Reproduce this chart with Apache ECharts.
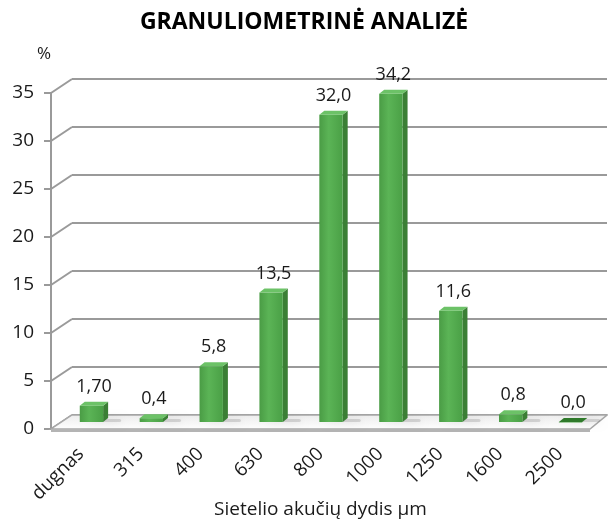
<!DOCTYPE html>
<html>
<head>
<meta charset="utf-8">
<script src="https://cdn.jsdelivr.net/npm/echarts@6/dist/echarts.min.js"></script>
<style>
  html, body { margin: 0; padding: 0; background: #fff; }
  #chart { width: 608px; height: 521px; }
</style>
</head>
<body>
<div id="chart"></div>
<script>
// duomenys
const categories = ['dugnas', '315', '400', '630', '800', '1000', '1250', '1600', '2500']
const values = [1.70, 0.4, 5.8, 13.5, 32.0, 34.2, 11.6, 0.8, 0.0]
const valueLabels = ['1,70', '0,4', '5,8', '13,5', '32,0', '34,2', '11,6', '0,8', '0,0']
const yTicks = [0, 5, 10, 15, 20, 25, 30, 35]
const yMax = 35
const yStep = 5

// 3D depth of the floor / back wall
const DX = 21
const DY = -14
const FONT = 'Open Sans'
const GRID_COLOR = '#9a9a9a'

const chart = echarts.init(document.getElementById('chart'))

function renderConnector (params, api) {
  const y = api.coord([0, api.value(1)])[1]
  const x0 = params.coordSys.x
  return {
    type: 'line',
    shape: { x1: x0, y1: y, x2: x0 + DX, y2: y + DY },
    style: { stroke: GRID_COLOR, lineWidth: 2 }
  }
}

function renderFloor (params) {
  const r = params.coordSys
  const x0 = r.x
  const x1 = r.x + r.width
  const y = r.y + r.height
  return {
    type: 'group',
    children: [{
      type: 'polygon',
      shape: { points: [[x0, y], [x1, y], [x1 + DX - 4, y + DY], [x0 + DX, y + DY]] },
      style: {
        fill: new echarts.graphic.LinearGradient(0, 0, 0, 1, [
          { offset: 0, color: '#ececec' },
          { offset: 1, color: '#ffffff' }
        ]),
        stroke: '#a8a8a8',
        lineWidth: 1.5
      }
    }, {
      type: 'polygon',
      shape: { points: [[x0, y], [x1, y], [x1, y + 3], [x0, y + 3]] },
      style: { fill: '#b4b4b4' }
    }]
  }
}

function renderBar (params, api) {
  const i = api.value(0)
  const v = api.value(1)
  const base = api.coord([i, 0])
  const top = api.coord([i, v])
  const w = api.size([1, 0])[0] * 0.39
  const sx = 5
  const sy = -4
  const x = base[0] - w / 2
  const h = base[1] - top[1]
  return {
    type: 'group',
    children: [{
      type: 'rect',
      shape: { x: x + 8, y: base[1] - 3, width: w + 10, height: 3, r: 2 },
      style: { fill: 'rgba(120,120,120,0.25)', shadowBlur: 8, shadowColor: 'rgba(0,0,0,0.45)' }
    }, {
      type: 'polygon',
      shape: { points: [[x + w, top[1]], [x + w + sx, top[1] + sy], [x + w + sx, base[1] + sy], [x + w, base[1]]] },
      style: { fill: '#3b7f35' }
    }, {
      type: 'rect',
      shape: { x: x, y: top[1], width: w, height: Math.max(h, 0.5) },
      style: {
        fill: new echarts.graphic.LinearGradient(0, 0, 1, 0, [
          { offset: 0, color: '#4a9c45' },
          { offset: 0.4, color: '#5bb456' },
          { offset: 1, color: '#4aa046' }
        ])
      }
    }, {
      type: 'polygon',
      shape: { points: [[x, top[1]], [x + sx, top[1] + sy], [x + w + sx, top[1] + sy], [x + w, top[1]]] },
      style: { fill: v > 0.1 ? '#6cc267' : '#2f7a2b' }
    }, {
      type: 'text',
      style: {
        text: valueLabels[i],
        x: base[0] + sx / 2,
        y: top[1] - 10,
        align: 'center',
        verticalAlign: 'bottom',
        fill: '#1a1a1a',
        font: '18px "' + FONT + '"'
      }
    }]
  }
}

chart.setOption({
  animation: false,
  title: {
    text: 'GRANULIOMETRINĖ ANALIZĖ',
    left: 'center',
    top: 6,
    textStyle: { fontFamily: FONT, fontWeight: 'bold', fontSize: 23, color: '#000' }
  },
  grid: [
    { left: 51, top: 93, width: 539, height: 336, outerBoundsMode: 'none', containLabel: false },
    { left: 51 + DX, top: 93 + DY, width: 535, height: 336, outerBoundsMode: 'none', containLabel: false },
    { left: 51 + DX / 2, top: 93 + DY / 2, width: 539, height: 336, outerBoundsMode: 'none', containLabel: false }
  ],
  xAxis: [{
    gridIndex: 0,
    type: 'category',
    data: categories,
    name: 'Sietelio akučių dydis µm',
    nameLocation: 'middle',
    nameGap: 71,
    nameMoveOverlap: false,
    nameTextStyle: { fontFamily: FONT, fontSize: 19, color: '#1a1a1a' },
    axisLine: { show: false },
    axisTick: { show: false },
    axisLabel: { rotate: 45, margin: 22, fontFamily: FONT, fontSize: 19, color: '#1a1a1a', interval: 0 }
  }, {
    gridIndex: 1,
    type: 'category',
    data: categories,
    show: false
  }, {
    gridIndex: 2,
    type: 'category',
    data: categories,
    show: false
  }],
  yAxis: [{
    gridIndex: 0,
    type: 'value',
    min: 0,
    max: yMax,
    interval: yStep,
    name: '%',
    nameLocation: 'end',
    nameGap: 30,
    nameMoveOverlap: false,
    nameTextStyle: { fontFamily: FONT, fontSize: 17, color: '#1a1a1a', align: 'right' },
    axisLine: { show: true, lineStyle: { color: GRID_COLOR, width: 2 } },
    axisTick: { show: true, length: 7, lineStyle: { color: GRID_COLOR, width: 2 } },
    axisLabel: { margin: 17, fontFamily: FONT, fontSize: 19, color: '#1a1a1a' },
    splitLine: { show: false }
  }, {
    gridIndex: 1,
    type: 'value',
    min: 0,
    max: yMax,
    interval: yStep,
    axisLine: { show: false },
    axisTick: { show: false },
    axisLabel: { show: false },
    splitLine: { show: true, lineStyle: { color: GRID_COLOR, width: 2 } }
  }, {
    gridIndex: 2,
    type: 'value',
    min: 0,
    max: yMax,
    interval: yStep,
    show: false,
    splitLine: { show: false }
  }],
  series: [{
    type: 'custom',
    xAxisIndex: 0,
    yAxisIndex: 0,
    z: 1,
    silent: true,
    data: yTicks.map(v => [0, v]),
    encode: { x: 0, y: 1 },
    renderItem: renderConnector
  }, {
    type: 'custom',
    xAxisIndex: 0,
    yAxisIndex: 0,
    z: 1,
    silent: true,
    data: [[0, 0]],
    encode: { x: 0, y: 1 },
    renderItem: renderFloor
  }, {
    type: 'custom',
    xAxisIndex: 2,
    yAxisIndex: 2,
    z: 3,
    data: values.map((v, i) => [i, v]),
    encode: { x: 0, y: 1 },
    renderItem: renderBar
  }]
})
</script>
</body>
</html>
